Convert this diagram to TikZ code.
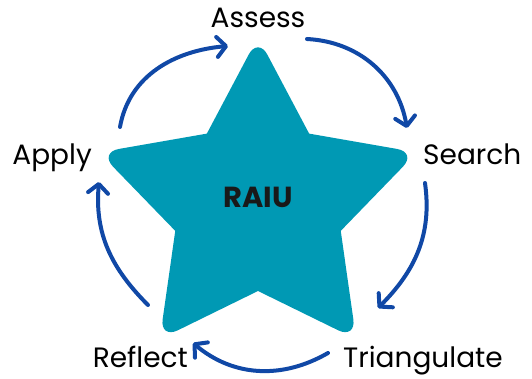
\documentclass[tikz,border=0pt]{standalone}
\usepackage{fontspec}
\setmainfont{Poppins}
\usetikzlibrary{arrows.meta}

\definecolor{starteal}{RGB}{0,153,180}
\definecolor{loopblue}{RGB}{16,72,166}

\begin{document}
\begin{tikzpicture}[x=1pt, y=1pt,
    stage/.style={font=\fontsize{28}{28}\selectfont, inner sep=0pt, anchor=base},
    loop/.style={draw=loopblue, line width=4pt, line cap=round,
      -{Straight Barb[length=9pt, width=20pt, line width=4pt, round]}}]
      \useasboundingbox (-258,-175) rectangle (274,204);

      % star, tips rounded, inner corners sharp
      \fill[starteal] (126:87) [rounded corners=20pt] -- (90:167) [sharp corners]
        -- (54:87) [rounded corners=20pt] -- (18:167) [sharp corners]
        -- (-18:87) [rounded corners=20pt] -- (-54:167) [sharp corners]
        -- (-90:87) [rounded corners=20pt] -- (-126:167) [sharp corners]
        -- (-162:87) [rounded corners=20pt] -- (162:167) [sharp corners] -- cycle;

      \node[font=\fontsize{29}{29}\selectfont\bfseries, text=black!90] (raiu) at (0,7) {RAIU};

      \node[stage] (assess) at (0,176) {Assess};
      \node[stage, anchor=base west] (search) at (165,39) {Search};
      \node[stage, anchor=base west] (triang) at (85,-164) {Triangulate};
      \node[stage, anchor=base east] (reflect) at (-70,-164) {Reflect};
      \node[stage, anchor=base east] (apply) at (-166,39) {Apply};

      % ends of the arrows round the star
      \coordinate (a1) at (-138,77);
      \coordinate (b1) at (-30,158);
      \coordinate (a2) at (49,165);
      \coordinate (b2) at (149,76);
      \coordinate (a3) at (167,21);
      \coordinate (b3) at (120,-104);
      \coordinate (a4) at (70,-149);
      \coordinate (b4) at (-65,-139);
      \coordinate (a5) at (-110,-101);
      \coordinate (b5) at (-159,22);

      \draw[loop] (a1) to[out=80, in=185] (b1);
      \draw[loop] (a2) to[out=-3, in=100] (b2);
      \draw[loop] (a3) to[out=-82, in=45] (b3);
      \draw[loop] (a4) to[out=-150, in=-40] (b4);
      \draw[loop] (a5) to[out=135, in=-95] (b5);
    \end{tikzpicture}
\end{document}
